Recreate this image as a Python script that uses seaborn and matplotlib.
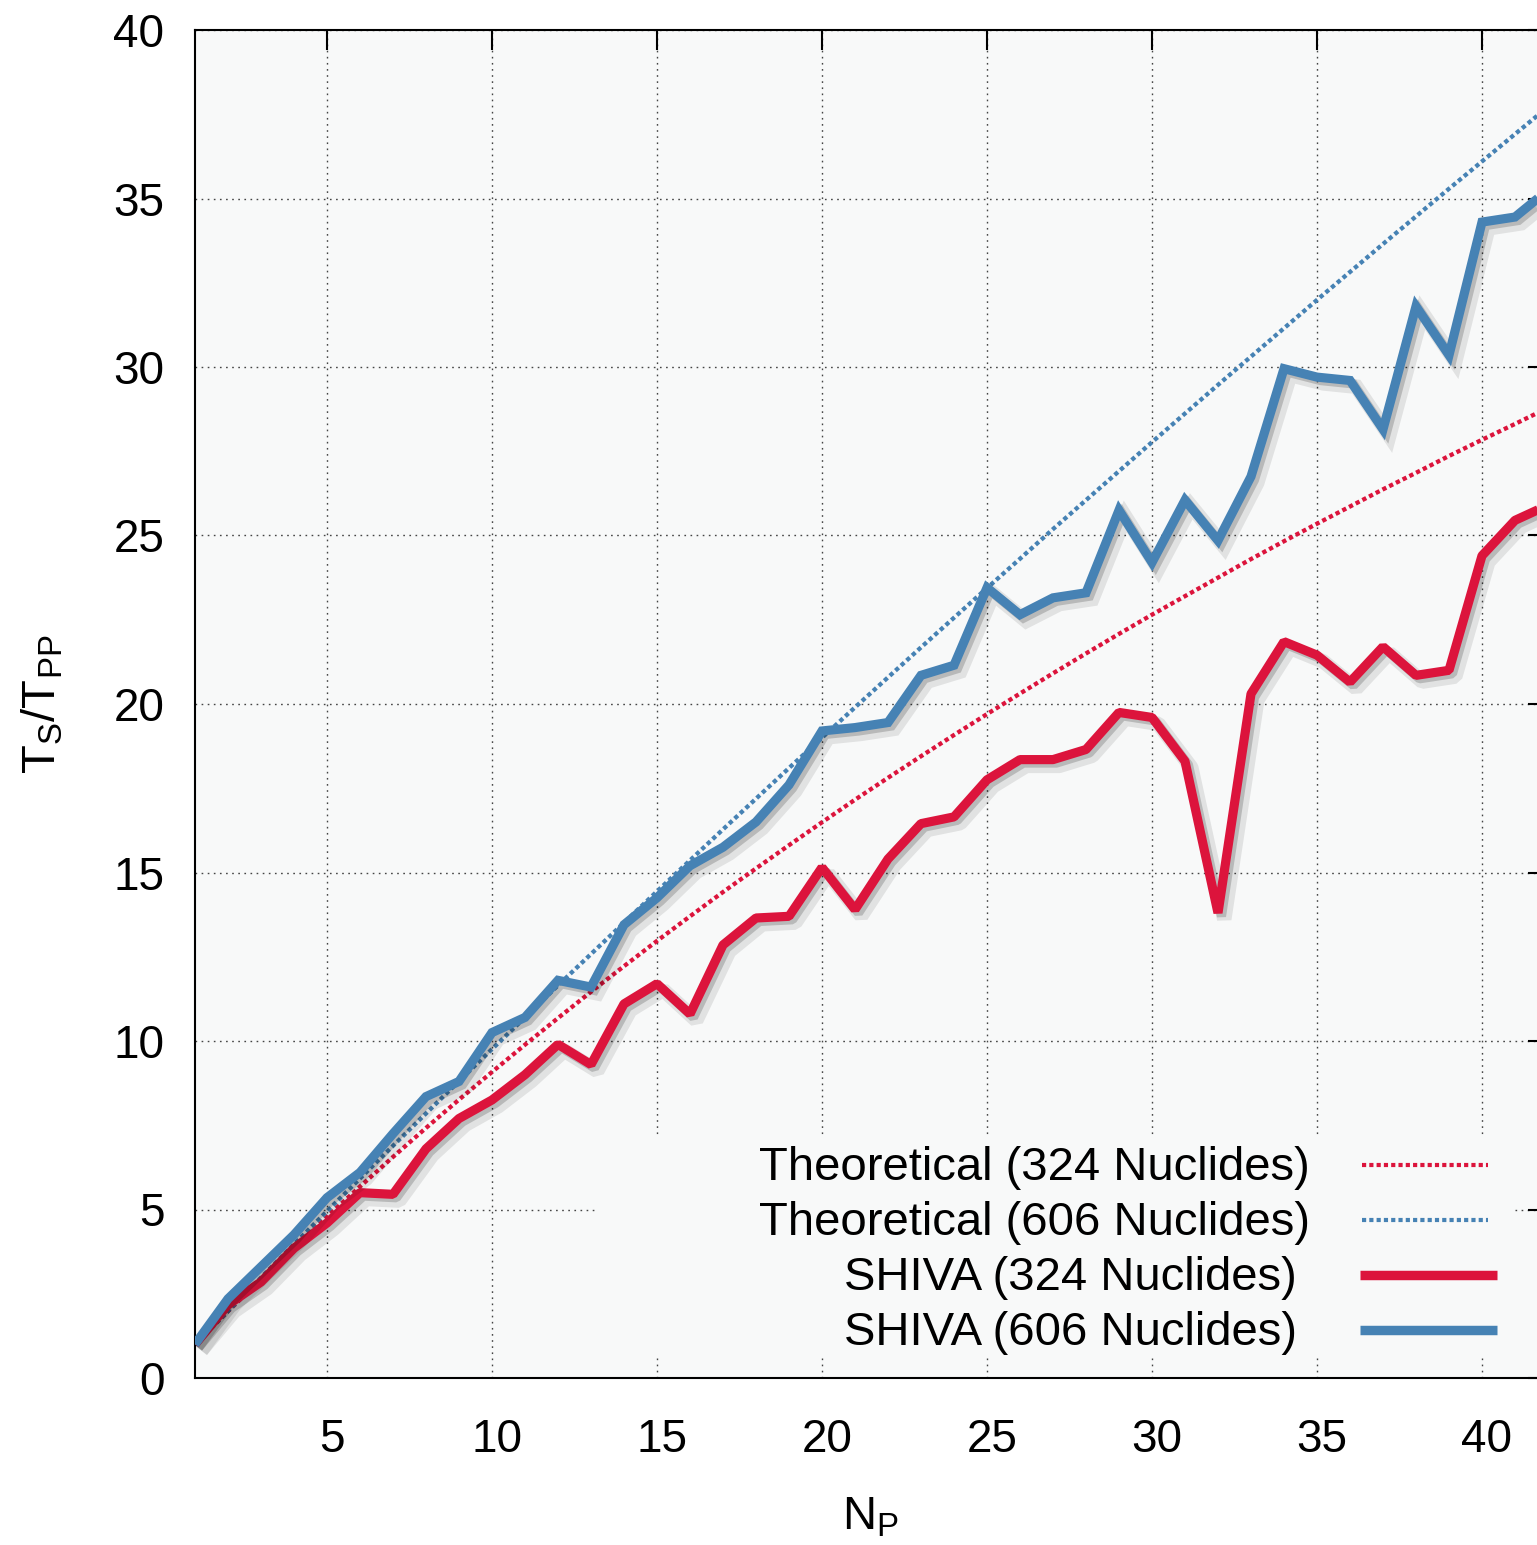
import numpy as np
import pandas as pd
import matplotlib
matplotlib.use("Agg")
import matplotlib.pyplot as plt
import matplotlib.patheffects as pe
import matplotlib.transforms as mtransforms
from matplotlib.patches import Rectangle
from matplotlib.lines import Line2D
import seaborn as sns

# Number of processes
n_proc = list(range(1, 43))

# Theoretical speed-up curves
theory_324 = [1.00, 1.98, 2.93, 3.87, 4.79, 5.68, 6.56, 7.42, 8.26, 9.08,
              9.89, 10.68, 11.46, 12.22, 12.97, 13.70, 14.42, 15.12, 15.81, 16.49,
              17.16, 17.81, 18.45, 19.08, 19.70, 20.31, 20.91, 21.50, 22.08, 22.65,
              23.20, 23.75, 24.30, 24.83, 25.35, 25.86, 26.37, 26.86, 27.36, 27.84,
              28.31, 28.79]
theory_606 = [1.00, 1.99, 2.98, 3.97, 4.95, 5.92, 6.89, 7.85, 8.81, 9.76,
              10.70, 11.65, 12.58, 13.51, 14.44, 15.36, 16.28, 17.19, 18.10, 19.00,
              19.90, 20.79, 21.68, 22.56, 23.44, 24.31, 25.19, 26.05, 26.91, 27.77,
              28.62, 29.47, 30.31, 31.15, 31.99, 32.82, 33.65, 34.47, 35.29, 36.10,
              36.91, 37.72]

# Measured SHIVA speed-ups
shiva_324 = [1.00, 2.17, 2.85, 3.85, 4.60, 5.50, 5.45, 6.80, 7.70, 8.25,
             9.00, 9.90, 9.30, 11.10, 11.70, 10.80, 12.85, 13.65, 13.70, 15.15,
             13.90, 15.40, 16.45, 16.65, 17.75, 18.35, 18.35, 18.65, 19.75, 19.60,
             18.30, 13.80, 20.30, 21.85, 21.45, 20.65, 21.70, 20.85, 21.00, 24.40,
             25.45, 25.90]
shiva_606 = [1.00, 2.35, 3.30, 4.25, 5.35, 6.10, 7.25, 8.35, 8.80, 10.25,
             10.70, 11.80, 11.60, 13.45, 14.25, 15.20, 15.75, 16.50, 17.60, 19.20,
             19.30, 19.45, 20.85, 21.15, 23.45, 22.65, 23.15, 23.30, 25.75, 24.20,
             26.05, 24.85, 26.75, 29.95, 29.70, 29.60, 28.15, 31.80, 30.35, 34.30,
             34.45, 35.25]

labels = ["Theoretical (324 Nuclides)", "Theoretical (606 Nuclides)",
          "SHIVA (324 Nuclides)", "SHIVA (606 Nuclides)"]

x_ticks = [5, 10, 15, 20, 25, 30, 35, 40]
y_ticks = [0, 5, 10, 15, 20, 25, 30, 35, 40]

RED = "#dc143c"
BLUE = "#4682b4"
BG = "#f8f9f9"

sns.set_style("white")
plt.rcParams["font.family"] = ["Liberation Sans", "DejaVu Sans"]
plt.rcParams["mathtext.fontset"] = "custom"
plt.rcParams["mathtext.rm"] = "Liberation Sans"
plt.rcParams["mathtext.it"] = "Liberation Sans:italic"
for key in ["text.color", "axes.labelcolor", "xtick.color", "ytick.color",
            "xtick.labelcolor", "ytick.labelcolor", "axes.edgecolor"]:
    plt.rcParams[key] = "black"

W, H = 1537, 1545
fig = plt.figure(figsize=(W / 100, H / 100), dpi=100)
fig.patch.set_facecolor("white")

# axes frame in pixels: left 195, right 1548 (beyond the canvas), top 30, bottom 1378
ax_l, ax_r, ax_t, ax_b = 195, 1548, 30, 1378
ax = fig.add_axes([ax_l / W, (H - ax_b) / H, (ax_r - ax_l) / W, (ax_b - ax_t) / H])
ax.set_facecolor(BG)
ax.set_axisbelow(True)

df = pd.DataFrame({"N": n_proc, "t324": theory_324, "t606": theory_606,
                   "s324": shiva_324, "s606": shiva_606})

dotted = (0, (1.0, 0.75))
sns.lineplot(data=df, x="N", y="t324", ax=ax, color=RED, linewidth=3.1,
             linestyle=dotted, dash_capstyle="butt", zorder=3)
sns.lineplot(data=df, x="N", y="t606", ax=ax, color=BLUE, linewidth=3.1,
             linestyle=dotted, dash_capstyle="butt", zorder=3)

shadow = [pe.SimpleLineShadow(offset=(4.5, -4.5), shadow_color="black", alpha=0.09, linewidth=10.5),
          pe.SimpleLineShadow(offset=(2.5, -2.5), shadow_color="black", alpha=0.18),
          pe.Normal()]
sns.lineplot(data=df, x="N", y="s324", ax=ax, color=RED, linewidth=6.6,
             solid_joinstyle="bevel", solid_capstyle="butt", path_effects=shadow, zorder=4)
sns.lineplot(data=df, x="N", y="s606", ax=ax, color=BLUE, linewidth=6.6,
             solid_joinstyle="miter", solid_capstyle="butt", path_effects=shadow, zorder=4)

ax.set_xlim(1, 42)
ax.set_ylim(0, 40)
ax.set_xticks(x_ticks)
ax.set_yticks(y_ticks)
ax.tick_params(axis="both", which="major", direction="in", length=14.5, width=1.5,
               labelsize=33, top=True, right=True, color="black", labelcolor="black")
ax.tick_params(axis="x", pad=29)
ax.tick_params(axis="y", pad=22)
ax.grid(True, which="major", color="#444444", linestyle=(0, (1.2, 3.2)), linewidth=1.0)
for s in ax.spines.values():
    s.set_linewidth(1.5)
    s.set_color("black")

# x tick labels sit a few pixels right of their ticks
shift = mtransforms.ScaledTranslation(5 / 100, 0, fig.dpi_scale_trans)
for lbl in ax.get_xticklabels():
    lbl.set_transform(lbl.get_transform() + shift)

ax.set_xlabel(r"$\mathrm{N_P}$", fontsize=34, color="black")
ax.set_ylabel(r"$\mathrm{T_S/T_{PP}}$", fontsize=34, color="black")
ax.xaxis.set_label_coords(0.499, -0.087)
ax.yaxis.set_label_coords(-0.096, 0.5)

# key: opaque panel, right-aligned entries, samples on the right
def ax_x(px):
    return (px - ax_l) / (ax_r - ax_l)

def ax_y(py):
    return (ax_b - py) / (ax_b - ax_t)

ax.add_patch(Rectangle((ax_x(595), ax_y(1357)), ax_x(1515) - ax_x(595), ax_y(1137) - ax_y(1357),
                       transform=ax.transAxes, facecolor=BG, edgecolor="none", zorder=1))

rows_y = [1165, 1220, 1275, 1330]
text_right = [1310, 1310, 1297, 1297]
sample_x = [(1362, 1488), (1362, 1488), (1360, 1497), (1360, 1497)]
sample_style = [dict(color=RED, lw=3.0, ls=dotted, dash_capstyle="butt"),
                dict(color=BLUE, lw=3.0, ls=dotted, dash_capstyle="butt"),
                dict(color=RED, lw=6.8, solid_capstyle="butt"),
                dict(color=BLUE, lw=6.8, solid_capstyle="butt")]
for lab, yy, xr, (x0, x1), st in zip(labels, rows_y, text_right, sample_x, sample_style):
    ax.text(ax_x(xr), ax_y(yy + 3), lab, transform=ax.transAxes, ha="right", va="center",
            fontsize=34, color="black", zorder=6)
    ax.add_line(Line2D([ax_x(x0), ax_x(x1)], [ax_y(yy), ax_y(yy)], transform=ax.transAxes,
                       zorder=6, **st))

fig.savefig("out.png", dpi=100)
